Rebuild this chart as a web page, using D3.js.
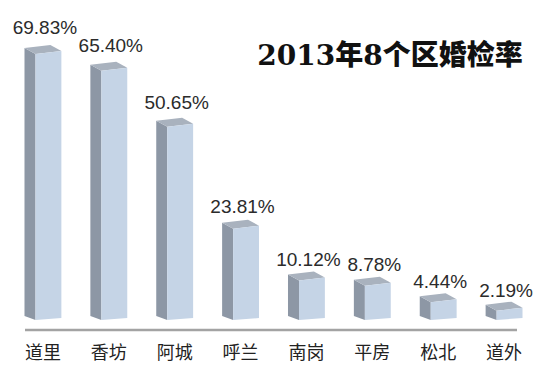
<!DOCTYPE html>
<head>
  <meta charset="utf-8">
  <script src="https://d3js.org/d3.v7.min.js"></script>
  <style>
    body { margin:0; background:#fff; }
  </style>
</head>
<body>
<script>
// data
var districts = ["道里", "香坊", "阿城", "呼兰", "南岗", "平房", "松北", "道外"];
var rates = [69.83, 65.40, 50.65, 23.81, 10.12, 8.78, 4.44, 2.19];
var labels = ["69.83%", "65.40%", "50.65%", "23.81%", "10.12%", "8.78%", "4.44%", "2.19%"];
var title = "2013年8个区婚检率";

var W = 550, H = 385;
var base = 319;      // bottom of the columns
var depthX = 11, depthY = 6;  // 3d offset of the side/top faces

var svg = d3.select("body").append("svg")
  .attr("width", W)
  .attr("height", H);

var x = d3.scaleBand().domain(districts).range([10, 537]).paddingInner(0.44).paddingOuter(0.22);
var y = d3.scaleLinear().domain([0, 69.83]).range([base, 54]);

var data = districts.map(function(d, i){ return {name: d, v: rates[i], label: labels[i]}; });

var g = svg.selectAll(".bar").data(data).enter().append("g").attr("class", "bar");

// left side face (dark)
g.append("path")
  .attr("fill", "#8d97a5")
  .attr("d", function(d){
    var x0 = x(d.name) + depthX, yt = y(d.v);
    return "M" + (x0 - depthX) + "," + (yt - depthY) +
           "L" + x0 + "," + yt +
           "L" + x0 + "," + (base + 1) +
           "L" + (x0 - depthX) + "," + (base - 3) + "Z";
  });

// top face
g.append("path")
  .attr("fill", "#a9b2be")
  .attr("d", function(d){
    var x0 = x(d.name) + depthX, x1 = x(d.name) + x.bandwidth(), yt = y(d.v);
    return "M" + x0 + "," + yt +
           "L" + x1 + "," + (yt - 3) +
           "L" + (x1 - depthX) + "," + (yt - depthY - 3) +
           "L" + (x0 - depthX) + "," + (yt - depthY) + "Z";
  });

// front face (light)
g.append("path")
  .attr("fill", "#c5d4e6")
  .attr("d", function(d){
    var x0 = x(d.name) + depthX, x1 = x(d.name) + x.bandwidth(), yt = y(d.v);
    return "M" + x0 + "," + yt +
           "L" + x1 + "," + (yt - 3) +
           "L" + x1 + "," + (base - 1) +
           "L" + x0 + "," + (base + 1) + "Z";
  });

// value labels
g.append("text")
  .attr("x", function(d){ return x(d.name) + x.bandwidth() / 2 + 2; })
  .attr("y", function(d){ return y(d.v) - depthY - 8 - d.v * 0.08; })
  .attr("text-anchor", "middle")
  .attr("font-family", "'Liberation Sans', Arial, sans-serif")
  .attr("font-size", 19)
  .attr("fill", "#2b2b2b")
  .text(function(d){ return d.label; });

// baseline
svg.append("line")
  .attr("x1", 25).attr("x2", 517)
  .attr("y1", 330).attr("y2", 330)
  .attr("stroke", "#a3a3a3")
  .attr("stroke-width", 2.5);

// category axis
var axis = d3.axisBottom(x).tickSize(0).tickPadding(0);
var ax = svg.append("g").attr("transform", "translate(0,359)").call(axis);
ax.select(".domain").remove();
ax.selectAll("text")
  .attr("dy", 0)
  .attr("font-family", "'Noto Sans CJK SC', sans-serif")
  .attr("font-size", 18)
  .attr("fill", "#222");

// title
svg.append("text")
  .attr("x", 390).attr("y", 65)
  .attr("text-anchor", "middle")
  .attr("font-family", "'DejaVu Serif', 'Noto Sans CJK SC', serif")
  .attr("font-weight", "900")
  .attr("font-size", 28)
  .attr("fill", "#111")
  .text(title);
</script>
</body>
